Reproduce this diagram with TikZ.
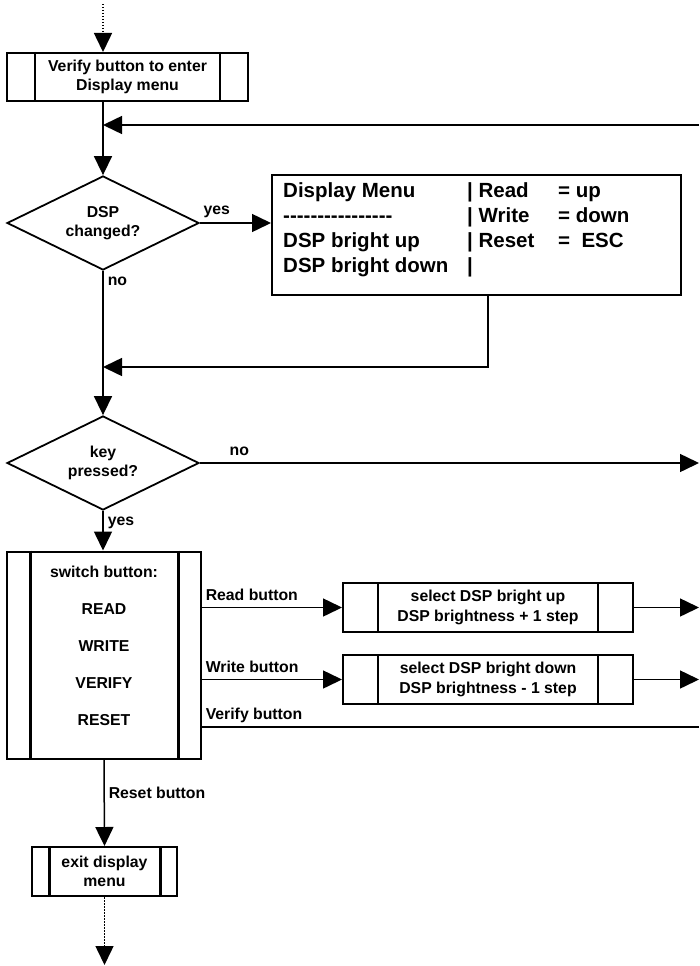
\documentclass[tikz,border=0pt]{standalone}
\usepackage{fontspec}
\setmainfont{Liberation Sans}
\usetikzlibrary{arrows.meta,shapes.geometric,positioning,calc}
\newcommand{\hy}{\mbox{-}}

\begin{document}
\begin{tikzpicture}[x=1pt,y=-1pt,
  every node/.style={font=\fontsize{15.8}{19.5}\selectfont\bfseries,align=center},
  >={Triangle[length=19pt,width=18pt]},
  link/.style={line width=1.5pt},
  bar/.style={draw,line width=#1},
  proc/.style n args={4}{draw,line width=2pt,minimum width=#1,minimum height=#2,inner sep=0pt,
    after node path={([xshift=#3]\tikzlastnode.north west) edge[bar=#4] ([xshift=#3]\tikzlastnode.south west)
                     ([xshift=-#3]\tikzlastnode.north east) edge[bar=#4] ([xshift=-#3]\tikzlastnode.south east)}},
  test/.style={draw,diamond,line width=1.8pt,minimum width=192pt,minimum height=94pt,aspect=2,inner sep=1pt},
  lbl/.style={inner sep=0pt,text depth=0pt,anchor=base west,xshift=3pt,yshift=7.5pt},
  vlbl/.style={inner sep=0pt,text depth=0pt,anchor=base west,xshift=4pt}]
\useasboundingbox (0,0) rectangle (699,966);

% boxes
\node[proc={241pt}{48pt}{29pt}{2pt}] (enter) at (127.5,77) {Verify button to enter\\Display menu};
\node[test] (dspchg) at (103,223) {DSP\\changed?};
\node[draw,line width=2pt,minimum width=409pt,minimum height=120pt] (menu) at (476.5,235) {};
\node[anchor=west,inner sep=0pt,font=\fontsize{20.5}{25}\selectfont\bfseries] (menutext) at ([xshift=12pt,yshift=5.5pt]menu.west)
  {\begin{tabular}{@{}p{184pt}@{}p{91pt}@{}l@{}}
   Display Menu & | Read & = up\\
   \hy\hy\hy\hy\hy\hy\hy\hy\hy\hy\hy\hy\hy\hy\hy\hy & | Write & = down\\
   DSP bright up & | Reset & = \ ESC\\
   DSP bright down & | & \\
   \end{tabular}};
\node[test] (keyp) at (103,463) {key\\pressed?};
\node[proc={194pt}{194pt}{24pt}{3pt},font=\fontsize{15.8}{37}\selectfont\bfseries] (switch) at (104,655)
  {\begin{tabular}{@{}c@{}}switch button:\\READ\\WRITE\\VERIFY\\RESET\\[22pt]\end{tabular}};
\node[proc={290pt}{49pt}{36pt}{2pt}] (bup) at (488,607.5) {select DSP bright up\\DSP brightness + 1 step};
\node[proc={290pt}{49pt}{36pt}{2pt}] (bdown) at (488,679.5) {select DSP bright down\\DSP brightness - 1 step};
\node[proc={145pt}{49pt}{18pt}{3pt}] (leave) at (104.5,871.5) {exit display\\menu};

% loose ends
\coordinate (start) at (103,4);
\coordinate (loop) at (699,125);
\coordinate (ret) at (488,367);
\coordinate (nokey) at (699,463);
\coordinate (outup) at (699,607.5);
\coordinate (outdown) at (699,679.5);
\coordinate (outverify) at (699,727);
\coordinate (stop) at (103,965);

% connectors
\draw[link,dash pattern=on 1.5pt off 1.5pt,->] (start) -- (start |- enter.north);
\draw[link,->] (start |- enter.south) -- (dspchg.north);
\draw[link,->] (loop) -- (loop -| dspchg);
\draw[link,->] (dspchg.east) -- node[lbl,pos=0,yshift=1pt] (yes1) {yes} (dspchg.east -| menu.west);
\draw[link,->] (dspchg.south) -- node[vlbl,pos=0,yshift=-15pt] (no1) {no} (keyp.north);
\draw[link,->] (menu.south -| ret) -- (ret) -- (ret -| keyp);
\draw[link,->] (keyp.east) -- node[lbl,pos=0.052] (no2) {no} (nokey);
\draw[link,->] (keyp.south) -- node[vlbl,pos=0,yshift=-15pt] (yes2) {yes} (keyp.south |- switch.north);
\draw[link,->] (switch.east |- bup) -- node[lbl,pos=0] (rdlbl) {Read button} (bup.west);
\draw[link,->] (bup.east) -- (outup);
\draw[link,->] (switch.east |- bdown) -- node[lbl,pos=0] (wrlbl) {Write button} (bdown.west);
\draw[link,->] (bdown.east) -- (outdown);
\draw[link] (switch.east |- outverify) -- node[lbl,pos=0] (vflbl) {Verify button} (outverify);
\draw[link,->] (switch.south) -- node[vlbl,pos=0,yshift=-39pt] (rslbl) {Reset button} (leave.north);
\draw[link,dash pattern=on 1.5pt off 1.5pt,->] (leave.south) -- (leave.south |- stop);
\end{tikzpicture}
\end{document}
